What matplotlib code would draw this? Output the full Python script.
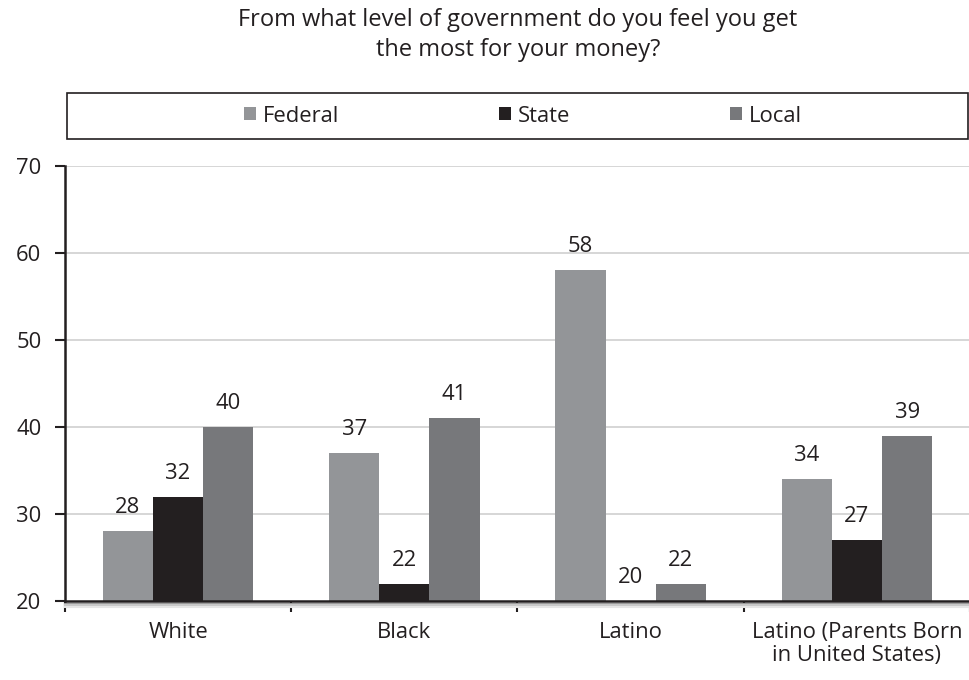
import matplotlib
matplotlib.use("Agg")
import matplotlib.pyplot as plt
import matplotlib.transforms as mtransforms
import numpy as np
from matplotlib.patches import Rectangle, Patch

plt.rcParams['font.family'] = ['Open Sans', 'DejaVu Sans']

categories = ["White", "Black", "Latino", "Latino (Parents Born\nin United States)"]
series_names = ["Federal", "State", "Local"]
federal = [28, 37, 58, 34]
state = [32, 22, 20, 27]
local = [40, 41, 22, 39]
yticks = [20, 30, 40, 50, 60, 70]
title = "From what level of government do you feel you get\nthe most for your money?"

colors = ["#939598", "#231f20", "#77787b"]
FS = 15.8

fig = plt.figure(figsize=(9.7, 6.8), dpi=100)
ax = fig.add_axes([65/970, 1-601/680, (970-65)/970, (601-166)/680])

x = np.arange(len(categories))
w = 0.222
for i, (vals, c, name) in enumerate(zip([federal, state, local], colors, series_names)):
    pos = x + (i - 1) * w
    ax.bar(pos, vals, width=w, color=c, label=name, zorder=3)
    for p, v in zip(pos, vals):
        ax.text(p, v + 1.5, str(v), ha='center', va='bottom', fontsize=FS, color='#231f20')

ax.set_ylim(20, 70)
ax.set_xlim(-0.5, len(categories) - 0.5)
ax.set_yticks(yticks)
ax.set_yticklabels([str(t) for t in yticks], fontsize=FS, color='#231f20')
ax.tick_params(axis='y', direction='out', length=7, width=1.5, pad=10, colors='#231f20')

ax.set_xticks(np.arange(len(categories) + 1) - 0.5)
ax.set_xticklabels([])
ax.tick_params(axis='x', which='major', direction='out', length=8, width=1.5, colors='#231f20')
ax.set_xticks(x, minor=True)
ax.set_xticklabels(categories, minor=True, fontsize=FS, color='#231f20', linespacing=1.15)
ax.tick_params(axis='x', which='minor', length=0, pad=15)

for t in yticks[1:]:
    ax.axhline(t, color='#d0d0d0', lw=1.2, zorder=1)

for s in ['top', 'right']:
    ax.spines[s].set_visible(False)
ax.spines['left'].set_linewidth(1.8)
ax.spines['left'].set_color('#231f20')
ax.spines['bottom'].set_linewidth(1.8)
ax.spines['bottom'].set_color('#231f20')
ax.spines['bottom'].set_zorder(4)

# soft shadow under the x axis line
for dy, col in [(-2.5, '#9a9a9a'), (-4.0, '#c8c8c8'), (-5.5, '#e6e6e6')]:
    tr = mtransforms.offset_copy(ax.transAxes, fig=fig, x=0, y=dy, units='dots')
    ax.plot([0, 1], [0, 0], transform=tr, color=col, lw=1.5, clip_on=False, zorder=2)

# legend frame
fig.patches.append(Rectangle((67/970, 1-139/680), (968-67)/970, (139-93)/680,
                             transform=fig.transFigure, fill=False, edgecolor='#231f20', lw=1.2))
handles = [Patch(facecolor=c, edgecolor='none') for c in colors]
fig.legend(handles, series_names, loc='center', bbox_to_anchor=(523/970, 1-116/680), ncol=3,
           frameon=False, fontsize=FS, handlelength=0.55, handleheight=0.55,
           handletextpad=0.3, columnspacing=7.3, labelcolor='#231f20')

fig.text(518/970, 1-35/680, title, ha='center', va='center', fontsize=17,
         color='#231f20', linespacing=1.3)

fig.savefig("out.png", dpi=100)
